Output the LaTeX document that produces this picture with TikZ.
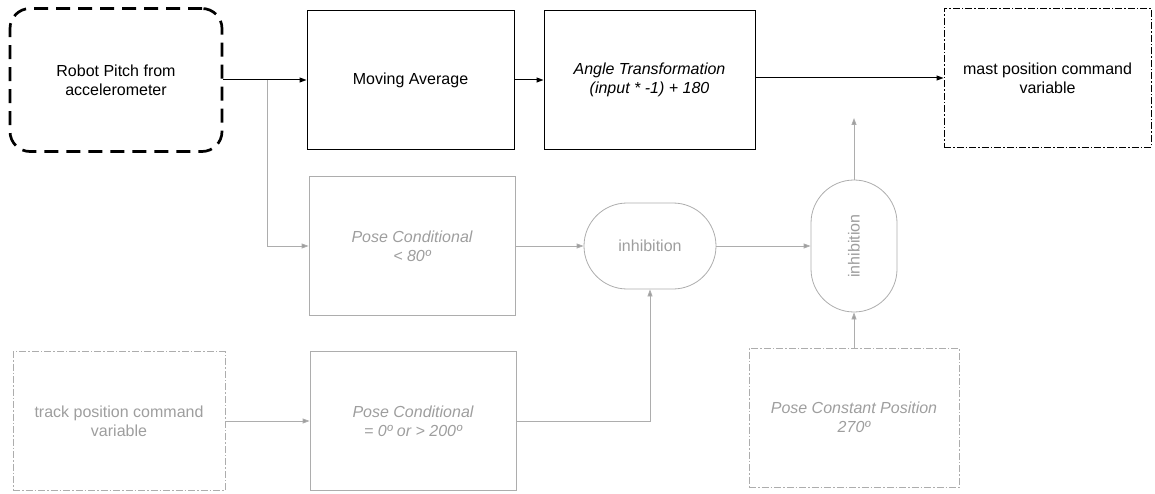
\documentclass[tikz,border=0pt]{standalone}
\usepackage{fontspec}
\setmainfont{Liberation Sans}
\usetikzlibrary{arrows.meta}
\definecolor{faint}{gray}{0.62}
\definecolor{faintline}{gray}{0.68}
\begin{document}
\begin{tikzpicture}[x=1pt,y=-1pt,
    every node/.style={align=center,font=\fontsize{16}{19}\selectfont},
    block/.style={draw,line width=1pt,minimum width=207pt,minimum height=139pt,inner sep=0pt},
    ghost/.style={block,draw=faintline,text=faint,line width=0.8pt},
    dashdot/.style={dash pattern=on 7pt off 2pt on 1.5pt off 2pt},
    pill/.style={ghost,rounded corners=43pt},
    link/.style={line width=1pt,-{Triangle[length=7pt,width=5pt]}},
    glink/.style={link,draw=faintline,line width=0.8pt,-{Triangle[length=7pt,width=5pt,fill=faint]}}]
    \useasboundingbox (0,0) rectangle (1155,494);
    % top row
    \node[block,minimum width=212pt,minimum height=143pt,rounded corners=20pt,
        line width=2.7pt,dash pattern=on 14pt off 8pt] (pitch) at (116,80)
        {Robot Pitch from\\accelerometer};
    \node[block] (avg) at (410.5,80) {Moving Average};
    \node[block,minimum width=211pt] (angle) at (649.5,80)
        {\itshape Angle Transformation\\\itshape (input * -1) + 180};
    \node[block,dashdot] (mast) at (1047.5,78) {mast position command\\variable};
    % middle row
    \node[ghost,minimum width=206pt] (pose80) at (412,246)
        {\itshape Pose Conditional\\\itshape < 80º};
    \node[pill,minimum width=132pt,minimum height=86pt] (inhA) at (650,246) {inhibition};
    \node[pill,minimum width=86pt,minimum height=132pt] (inhB) at (854,246)
        {\rotatebox{90}{inhibition}};
    \coordinate (free) at (854,118);
    % bottom row
    \node[ghost,minimum width=212pt,dashdot] (track) at (119,421)
        {track position command\\variable};
    \node[ghost,minimum width=206pt] (pose200) at (413,421)
        {\itshape Pose Conditional\\\itshape = 0º or > 200º};
    \node[ghost,minimum width=210pt,dashdot] (posec) at (854,417.5)
        {\itshape Pose Constant Position\\\itshape 270º};
    % connectors
    \draw[link] (pitch) -- (avg);
    \draw[link] (avg) -- (angle);
    \draw[link] (angle.east |- mast) -- (mast);
    \coordinate (split) at (267,80);
    \draw[glink] (split) |- (pose80);
    \draw[glink] (pose80) -- (inhA);
    \draw[glink] (inhA) -- (inhB);
    \draw[glink] (inhB) -- (free);
    \draw[glink] (posec) -- (inhB);
    \draw[glink] (track) -- (pose200);
    \draw[glink] (pose200.east) -| (inhA.south);
\end{tikzpicture}
\end{document}
